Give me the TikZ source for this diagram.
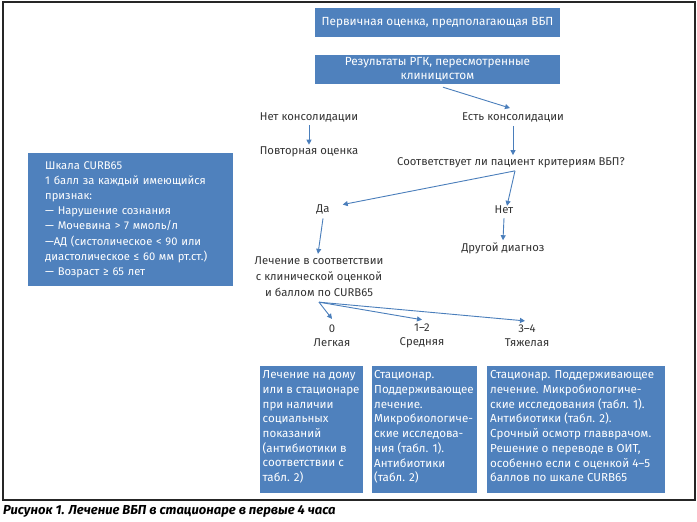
\documentclass[tikz,border=0pt]{standalone}
\usepackage{fontspec}
\setmainfont{Fira Sans}
\usetikzlibrary{arrows.meta}
\definecolor{boxblue}{HTML}{4F81BD}
\definecolor{arrblue}{HTML}{4A7EBB}
\definecolor{txt}{HTML}{333333}
\tikzset{
  bluebox/.style={fill=boxblue, draw=none, text=white, inner sep=0pt, font=\fontsize{11.6}{14.7}\selectfont},
  lbl/.style={text=txt, inner sep=1pt, align=center, font=\fontsize{11.3}{14}\selectfont},
  arr/.style={draw=arrblue, line width=0.9pt, -{Triangle[length=5pt,width=5pt]}},
}
\begin{document}
\begin{tikzpicture}[x=1pt,y=-1pt]
\useasboundingbox (0,0) rectangle (697,522);
\draw[line width=1.2pt, color=black!85] (3,2) rectangle (695,500);

% top boxes
\node[bluebox, minimum width=245pt, minimum height=29pt, font=\fontsize{11.8}{14}\selectfont] (box1) at (437.5,22.5) {Первичная оценка, предполагающая ВБП};
\node[bluebox, minimum width=245pt, minimum height=29pt, align=center, font=\fontsize{11.8}{14}\selectfont] (box2) at (437.5,69.5) {Результаты РГК, пересмотренные\\клиницистом};

% CURB65 box
\node[bluebox, anchor=north west, minimum width=205pt, minimum height=133pt, inner xsep=17pt, text width=171pt, align=left, font=\fontsize{11.2}{15.1}\selectfont] (curb) at (28,153) {Шкала CURB65\\1 балл за каждый имеющийся\\признак:\\— Нарушение сознания\\— Мочевина > 7 ммоль/л\\—АД (систолическое < 90 или\\диастолическое ≤ 60 мм рт.ст.)\\— Возраст ≥ 65 лет};

% labels
\node[lbl] (net) at (309,117) {Нет консолидации};
\node[lbl] (est) at (513,117) {Есть консолидации};
\node[lbl] (povt) at (309,152) {Повторная оценка};
\node[lbl] (sootv) at (511,162.5) {Соответствует ли пациент критериям ВБП?};
\node[lbl] (da) at (323,209.5) {Да};
\node[lbl] (net2) at (504,210) {Нет};
\node[lbl] (drug) at (503,248) {Другой диагноз};
\node[lbl, font=\fontsize{11.3}{16}\selectfont] (lech) at (319,277) {Лечение в соответствии\\с клинической оценкой\\и баллом по CURB65};
\node[lbl] (s0) at (332,336) {0\\Легкая};
\node[lbl] (s12) at (422,336) {1–2\\Средняя};
\node[lbl] (s34) at (527,336) {3–4\\Тяжелая};

% bottom boxes
\node[bluebox, anchor=north west, minimum width=103pt, minimum height=127pt] (ba) at (260,366)
  {\parbox[t][118pt][t]{98pt}{Лечение на дому\\или в стационаре\\при наличии\\социальных\\показаний\\(антибиотики в\\соответствии с\\табл. 2)}};
\node[bluebox, anchor=north west, minimum width=105pt, minimum height=127pt] (bb) at (372,366)
  {\parbox[t][118pt][t]{101pt}{Стационар.\\Поддерживающее\\лечение.\\Микробиологиче-\\ские исследова-\\ния (табл. 1).\\Антибиотики\\(табл. 2)}};
\node[bluebox, anchor=north west, minimum width=178pt, minimum height=127pt] (bc) at (487,366)
  {\parbox[t][118pt][t]{172pt}{Стационар. Поддерживающее\\лечение. Микробиологиче-\\ские исследования (табл. 1).\\Антибиотики (табл. 2).\\Срочный осмотр главврачом.\\Решение о переводе в ОИТ,\\особенно если с оценкой 4–5\\баллов по шкале CURB65}};

% arrows
\draw[arr] ([xshift=5.5pt,yshift=-3pt]box2.south) -- ([xshift=-3pt,yshift=3pt]est.north);
\draw[arr] ([yshift=-2pt]net.south) -- ([yshift=1pt]povt.north);
\draw[arr] ([yshift=-3pt]est.south) -- ([xshift=2pt,yshift=1pt]sootv.north);
\draw[arr] ([xshift=4pt,yshift=-2pt]sootv.south) -- ([xshift=12pt,yshift=-1pt]da.north east);
\draw[arr] ([xshift=4pt,yshift=-2pt]sootv.south) -- ([xshift=3pt,yshift=-1pt]net2.north);
\draw[arr] ([yshift=-3pt]da.south) -- ([xshift=-1pt,yshift=2pt]lech.north);
\draw[arr] ([yshift=-3pt]net2.south) -- ([yshift=1pt]drug.north);
\coordinate (lsrc) at ([yshift=-4pt]lech.south);
\draw[arr] (lsrc) -- ([yshift=5pt]s0.north);
\draw[arr] (lsrc) -- ([yshift=3pt]s12.north);
\draw[arr] (lsrc) -- ([xshift=-2pt,yshift=3pt]s34.north);

% caption
\node[anchor=west, inner sep=0pt, text=black, font=\fontsize{13}{15}\selectfont\bfseries\itshape] (cap) at (3,511.5) {Рисунок 1. Лечение ВБП в стационаре в первые 4 часа};
\end{tikzpicture}
\end{document}
